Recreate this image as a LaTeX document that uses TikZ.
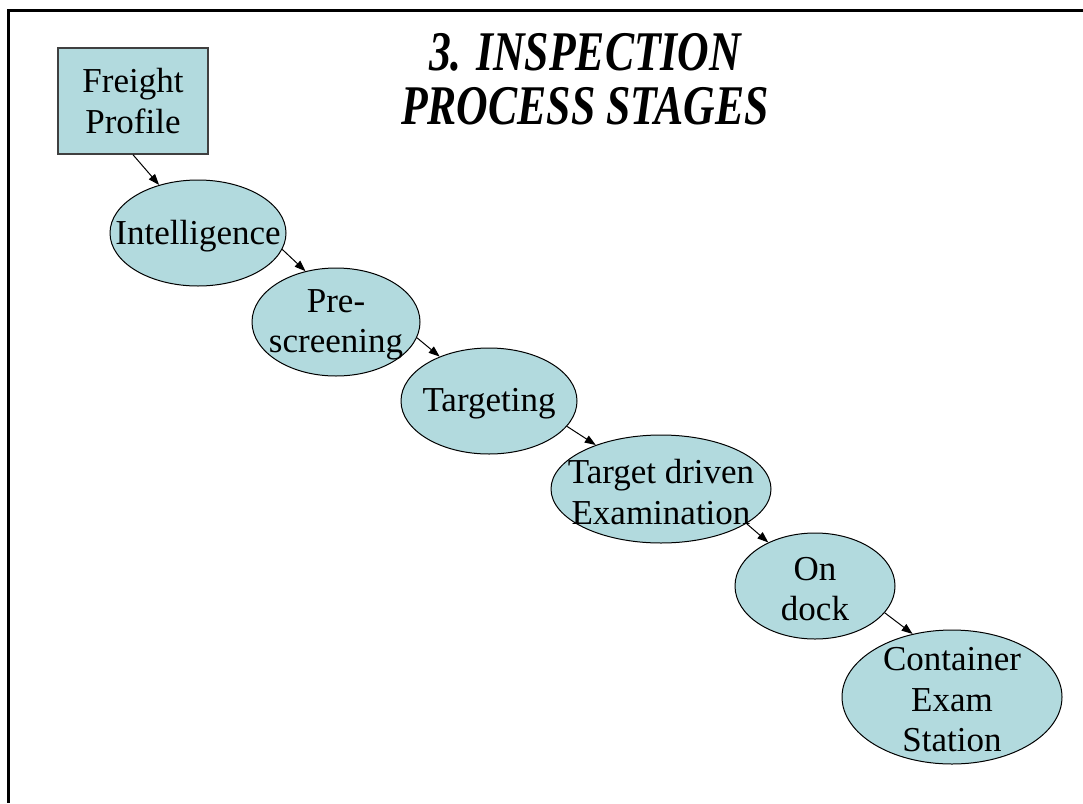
\documentclass[tikz,border=0pt]{standalone}
\usepackage{fontspec}
\setmainfont{Liberation Serif}
\newfontfamily\titlefont[FakeStretch=0.78]{Liberation Serif}
\usetikzlibrary{arrows.meta,shapes.geometric}
\definecolor{stagefill}{RGB}{178,218,222}

\begin{document}
\begin{tikzpicture}[x=1pt,y=-1pt,font=\fontsize{35}{40.5}\selectfont,>={Triangle[length=11pt,width=8pt]},
  stage/.style={draw,ellipse,fill=stagefill,inner sep=0pt,line width=1pt},
  box/.style={draw=black!75,fill=stagefill,line width=1.5pt,minimum width=150pt,minimum height=106pt,align=center},
  link/.style={->,line width=1pt},
  every label/.style={yshift=-3pt}]
\useasboundingbox (0,0) rectangle (1083,803);
\draw[line width=3pt] (1083,10) -- (8,10) -- (8,803);
\node[font=\titlefont\fontsize{56}{54}\selectfont\bfseries\itshape,align=center] (title) at (585,79) {3. INSPECTION\\PROCESS STAGES};
\node[box] (fp) at (133,101) {Freight\\Profile};
\node[stage,minimum width=176pt,minimum height=106pt,label={center:Intelligence}] (int) at (198,233) {};
\node[stage,minimum width=168pt,minimum height=108pt,label={[align=center]center:{Pre-\\screening}}] (pre) at (336,322) {};
\node[stage,minimum width=176pt,minimum height=106pt,label={center:Targeting}] (tgt) at (489,401) {};
\node[stage,minimum width=220pt,minimum height=108pt,label={[align=center]center:{Target driven\\Examination}}] (tde) at (661,489) {};
\node[stage,minimum width=160pt,minimum height=106pt,label={[align=center]center:{On\\dock}}] (dock) at (815,586) {};
\node[stage,minimum width=220pt,minimum height=134pt,label={[align=center]center:{Container\\Exam\\Station}}] (ces) at (952,697) {};
\draw[link] (fp.south) -- (int.129);
\draw[link] (int.-11) -- (pre.121);
\draw[link] (pre.-11) -- (tgt.138);
\draw[link] (tgt.-18) -- (tde.146);
\draw[link] (tde.-22) -- (dock.137);
\draw[link] (dock.-21) -- (ces.122);
\end{tikzpicture}
\end{document}
